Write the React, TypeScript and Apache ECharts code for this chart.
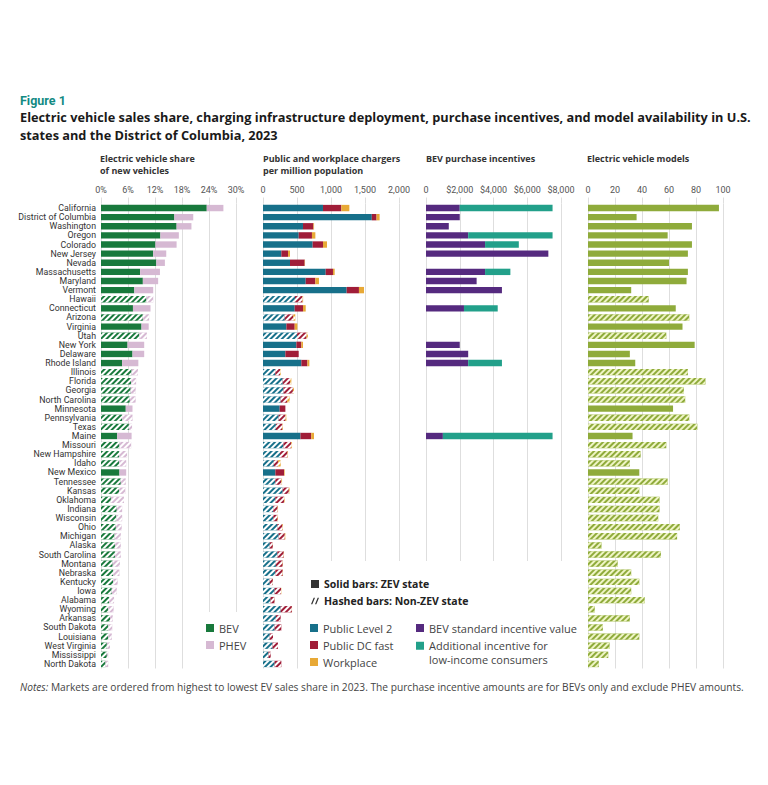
import React, { useEffect, useRef } from 'react';
import * as echarts from 'echarts';

const FONT = 'Roboto';
const FONT2 = 'Open Sans';

const states = [
  'California', 'District of Columbia', 'Washington', 'Oregon', 'Colorado', 'New Jersey', 'Nevada',
  'Massachusetts', 'Maryland', 'Vermont', 'Hawaii', 'Connecticut', 'Arizona', 'Virginia', 'Utah',
  'New York', 'Delaware', 'Rhode Island', 'Illinois', 'Florida', 'Georgia', 'North Carolina',
  'Minnesota', 'Pennsylvania', 'Texas', 'Maine', 'Missouri', 'New Hampshire', 'Idaho', 'New Mexico',
  'Tennessee', 'Kansas', 'Oklahoma', 'Indiana', 'Wisconsin', 'Ohio', 'Michigan', 'Alaska',
  'South Carolina', 'Montana', 'Nebraska', 'Kentucky', 'Iowa', 'Alabama', 'Wyoming', 'Arkansas',
  'South Dakota', 'Louisiana', 'West Virginia', 'Mississippi', 'North Dakota',
];

// 1 = ZEV state (solid bars), 0 = non-ZEV state (hashed bars)
const zevState = [
  1, 1, 1, 1, 1, 1, 1, 1, 1, 1, 0, 1, 0, 1, 0, 1, 1, 1, 0, 0, 0, 0, 1, 0, 0, 1, 0, 0, 0, 1,
  0, 0, 0, 0, 0, 0, 0, 0, 0, 0, 0, 0, 0, 0, 0, 0, 0, 0, 0, 0, 0,
];

// EV share of new vehicles (%)
const bevShare = [
  23.5, 16.3, 16.8, 13.2, 12.1, 11.6, 12.3, 8.7, 9.3, 7.4, 10.1, 7.1, 9.3, 9.0, 8.5, 5.9, 7.0, 4.7, 6.8, 6.7,
  6.6, 6.4, 5.5, 4.7, 6.2, 3.6, 4.1, 4.0, 4.0, 4.1, 4.4, 4.0, 2.2, 3.5, 3.4, 3.3, 3.0, 3.1, 3.1, 2.6,
  2.7, 2.7, 2.4, 1.8, 1.6, 2.0, 1.6, 1.6, 1.3, 1.3, 1.0,
];
const phevShare = [
  3.7, 4.2, 3.3, 4.1, 4.7, 2.9, 1.9, 4.4, 3.4, 4.2, 1.5, 3.9, 1.4, 1.6, 1.7, 3.7, 2.6, 3.6, 1.4, 1.1,
  1.1, 1.3, 1.5, 2.3, 0.7, 3.2, 2.6, 1.8, 1.6, 1.5, 1.1, 1.4, 2.9, 1.2, 1.3, 1.3, 1.4, 1.3, 1.3, 1.6,
  1.4, 1.0, 1.1, 1.1, 1.2, 0.6, 0.9, 0.8, 0.7, 0.3, 0.6,
];

// Public and workplace chargers per million population
const publicL2 = [
  882, 1600, 588, 525, 730, 270, 397, 922, 628, 1230, 470, 466, 320, 344, 500, 491, 329, 564, 180, 290,
  300, 260, 245, 230, 190, 551, 300, 250, 160, 182, 180, 290, 180, 150, 150, 210, 230, 100, 210, 190,
  180, 100, 170, 110, 260, 190, 170, 100, 140, 80, 170,
];
const publicDC = [
  270, 70, 153, 195, 152, 98, 216, 107, 142, 181, 110, 122, 125, 122, 140, 73, 196, 89, 70, 110,
  140, 95, 84, 100, 95, 158, 115, 110, 60, 127, 90, 90, 130, 65, 65, 75, 90, 45, 95, 100,
  110, 45, 95, 60, 165, 70, 100, 47, 80, 33, 100,
];
const workplace = [
  118, 45, 10, 50, 59, 29, 5, 25, 53, 74, 10, 40, 30, 40, 20, 24, 0, 29, 10, 17,
  16, 37, 0, 14, 9, 41, 12, 8, 40, 9, 10, 12, 9, 6, 6, 9, 9, 2, 4, 4,
  4, 2, 5, 2, 2, 0, 0, 0, 0, 0, 0,
];

// BEV purchase incentives ($)
const incentiveStandard = [
  2000, 2000, 1350, 2500, 3500, 7250, 0, 3500, 3000, 4500, 0, 2250, 0, 0, 0, 2000, 2500, 2500, 0, 0,
  0, 0, 0, 0, 0, 1000, 0, 0, 0, 0, 0, 0, 0, 0, 0, 0, 0, 0, 0, 0,
  0, 0, 0, 0, 0, 0, 0, 0, 0, 0, 0,
];
const incentiveLowIncome = [
  5500, 0, 0, 5000, 2000, 0, 0, 1500, 0, 0, 0, 2000, 0, 0, 0, 0, 0, 2000, 0, 0,
  0, 0, 0, 0, 0, 6500, 0, 0, 0, 0, 0, 0, 0, 0, 0, 0, 0, 0, 0, 0,
  0, 0, 0, 0, 0, 0, 0, 0, 0, 0, 0,
];

// Electric vehicle models available
const evModels = [
  97, 36, 77, 59, 77, 74, 60, 74, 73, 32, 45, 65, 75, 70, 58, 79, 31, 35, 74, 87,
  71, 72, 63, 75, 81, 33, 58, 39, 31, 38, 59, 38, 53, 53, 52, 68, 66, 10, 54, 22,
  32, 38, 32, 42, 5, 31, 11, 38, 16, 15, 8,
];

const shareTicks = ['0%', '6%', '12%', '18%', '24%', '30%'];
const chargerTicks = ['0', '500', '1,000', '1,500', '2,000'];
const incentiveTicks = ['0', '$2,000', '$4,000', '$6,000', '$8,000'];
const modelTicks = ['0', '20', '40', '60', '80', '100'];

const C = {
  bev: '#18793c',
  phev: '#d6b9d3',
  l2: '#17708a',
  dc: '#a01d38',
  wp: '#e8a936',
  std: '#552a7f',
  add: '#22a08a',
  models: '#8fab3b',
  grid: '#dedede',
  text: '#333333',
  tick: '#555555',
};

const hatch = (stripe: string) => ({
  symbol: 'rect',
  symbolSize: 1,
  dashArrayX: [1, 0],
  dashArrayY: [1.1, 1.4],
  rotation: -Math.PI / 4,
  color: stripe,
});

const withHatch = (vals: number[], stripe: string) =>
  vals.map((v, i) => (zevState[i] ? v : { value: v, itemStyle: { decal: hatch(stripe) } }));

const GRID_TOP = 203.5;
const GRID_H = 465;
const grids = [
  { left: 101, width: 135 },
  { left: 263, width: 136 },
  { left: 426, width: 135 },
  { left: 588, width: 135 },
];
const axisDefs = [
  { max: 30, interval: 6, ticks: shareTicks },
  { max: 2000, interval: 500, ticks: chargerTicks },
  { max: 8000, interval: 2000, ticks: incentiveTicks },
  { max: 100, interval: 20, ticks: modelTicks },
];

function buildOption() {
  const legendText = { fontFamily: FONT2, fontSize: 11, color: '#444', lineHeight: 12 };
  return {
    animation: false,
    backgroundColor: '#ffffff',
    textStyle: { fontFamily: FONT },
    title: [
      {
        text: 'Figure 1', left: 20, top: 94, padding: 0,
        textStyle: { fontFamily: FONT, fontSize: 12.5, fontWeight: 'bold', color: '#128a83' },
      },
      {
        text: 'Electric vehicle sales share, charging infrastructure deployment, purchase incentives, and model availability in U.S.\nstates and the District of Columbia, 2023',
        left: 20, top: 108, padding: 0,
        textStyle: { fontFamily: FONT2, fontSize: 12.75, fontWeight: 'bold', color: '#1a1a1a', lineHeight: 18 },
      },
      ...[
        { text: 'Electric vehicle share\nof new vehicles', left: 100 },
        { text: 'Public and workplace chargers\nper million population', left: 263 },
        { text: 'BEV purchase incentives', left: 426 },
        { text: 'Electric vehicle models', left: 587 },
      ].map((t) => ({
        text: t.text, left: t.left, top: 152, padding: 0,
        textStyle: { fontFamily: FONT2, fontSize: 9, fontWeight: 'bold', color: '#333', lineHeight: 12.5 },
      })),
      {
        text: '{i|Notes:} Markets are ordered from highest to lowest EV sales share in 2023. The purchase incentive amounts are for BEVs only and exclude PHEV amounts.',
        left: 20, top: 682, padding: 0,
        textStyle: {
          fontFamily: FONT2, fontSize: 10.2, color: '#444', fontWeight: 'normal',
          rich: { i: { fontFamily: FONT2, fontSize: 10.2, color: '#444', fontStyle: 'italic' } },
        },
      },
    ],
    legend: [
      {
        data: ['BEV', 'PHEV'], orient: 'vertical', left: 201, top: 612, padding: [10, 10, 22, 5], icon: 'rect',
        itemWidth: 8, itemHeight: 8, itemGap: 5, backgroundColor: '#ffffff', textStyle: legendText,
      },
      {
        data: [
          { name: 'Solid bars: ZEV state', icon: 'rect' },
          { name: 'Hashed bars: Non-ZEV state', icon: 'path://M0,10L4,0L6,0L2,10Z M6,10L10,0L12,0L8,10Z' },
        ],
        orient: 'vertical', left: 305, top: 561, padding: [17, 100, 65, 6],
        itemWidth: 8, itemHeight: 8, itemGap: 5, backgroundColor: '#ffffff',
        textStyle: { ...legendText, fontSize: 10.5, color: '#222', fontWeight: 'bold' },
      },
      {
        data: ['Public Level 2', 'Public DC fast', 'Workplace'], orient: 'vertical', left: 310, top: 622,
        padding: 0, icon: 'rect', itemWidth: 8, itemHeight: 8, itemGap: 5, textStyle: legendText,
      },
      {
        data: ['BEV standard incentive value'], orient: 'vertical', left: 416, top: 622,
        padding: 0, icon: 'rect', itemWidth: 8, itemHeight: 8, textStyle: legendText,
      },
      {
        data: ['Additional incentive for\nlow-income consumers'], orient: 'vertical', left: 416, top: 625.5,
        padding: 0, icon: 'rect', itemWidth: 8, itemHeight: 8,
        formatter: (n: string) => ' \n' + n,
        textStyle: { ...legendText, lineHeight: 13.5 },
      },
    ],
    grid: grids.map((g) => ({ left: g.left, width: g.width, top: GRID_TOP, height: GRID_H })),
    xAxis: axisDefs.map((a, i) => ({
      type: 'value', gridIndex: i, position: 'top', min: 0, max: a.max, interval: a.interval,
      axisLine: { show: false },
      axisTick: { show: true, length: 6, lineStyle: { color: C.grid } },
      splitLine: { show: true, lineStyle: { color: C.grid, width: 1 } },
      axisLabel: {
        margin: 9, fontFamily: FONT, fontSize: 9, color: C.tick,
        formatter: (v: number) => a.ticks[Math.round(v / a.interval)] ?? '',
      },
    })),
    yAxis: grids.map((_, i) => ({
      type: 'category', gridIndex: i, data: states, inverse: true,
      axisLine: { show: false }, axisTick: { show: false },
      axisLabel: {
        show: i === 0, interval: 0, margin: 5, fontFamily: FONT, fontSize: 8.8, color: C.text,
      },
    })),
    series: [
      { name: 'BEV', type: 'bar', xAxisIndex: 0, yAxisIndex: 0, stack: 'share', barWidth: '70%', color: C.bev, data: withHatch(bevShare, '#ffffff') },
      { name: 'PHEV', type: 'bar', xAxisIndex: 0, yAxisIndex: 0, stack: 'share', barWidth: '70%', color: C.phev, data: withHatch(phevShare, '#ffffff') },
      { name: 'Public Level 2', type: 'bar', xAxisIndex: 1, yAxisIndex: 1, stack: 'chg', barWidth: '70%', color: C.l2, data: withHatch(publicL2, '#ffffff') },
      { name: 'Public DC fast', type: 'bar', xAxisIndex: 1, yAxisIndex: 1, stack: 'chg', barWidth: '70%', color: C.dc, data: withHatch(publicDC, '#ffffff') },
      { name: 'Workplace', type: 'bar', xAxisIndex: 1, yAxisIndex: 1, stack: 'chg', barWidth: '70%', color: C.wp, data: withHatch(workplace, '#ffffff') },
      { name: 'Solid bars: ZEV state', type: 'bar', xAxisIndex: 1, yAxisIndex: 1, stack: 'chg', barWidth: '70%', color: '#333333', data: [] },
      { name: 'Hashed bars: Non-ZEV state', type: 'bar', xAxisIndex: 1, yAxisIndex: 1, stack: 'chg', barWidth: '70%', color: '#333333', data: [] },
      { name: 'BEV standard incentive value', type: 'bar', xAxisIndex: 2, yAxisIndex: 2, stack: 'inc', barWidth: '70%', color: C.std, data: incentiveStandard },
      { name: 'Additional incentive for\nlow-income consumers', type: 'bar', xAxisIndex: 2, yAxisIndex: 2, stack: 'inc', barWidth: '70%', color: C.add, data: incentiveLowIncome },
      { name: 'Electric vehicle models', type: 'bar', xAxisIndex: 3, yAxisIndex: 3, barWidth: '70%', color: C.models, data: withHatch(evModels, '#eef4c4') },
    ],
  };
}

export default function App() {
  const ref = useRef<HTMLDivElement>(null);
  useEffect(() => {
    if (!ref.current) return;
    const chart = echarts.init(ref.current, null, { renderer: 'svg' });
    chart.setOption(buildOption() as any);
    return () => chart.dispose();
  }, []);
  return (
    <div
      ref={ref}
      style={{ position: 'absolute', left: 0, top: 0, width: 768, height: 785, background: '#ffffff' }}
    />
  );
}
